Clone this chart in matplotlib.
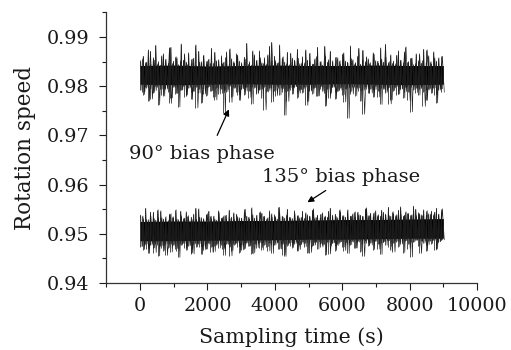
import numpy as np
import matplotlib
matplotlib.use("Agg")
import matplotlib.pyplot as plt
from matplotlib.ticker import MultipleLocator

# ---- data: upper / lower excursions of the noisy records ----
# 90 deg bias phase, first set of excursions
hi90 = [
0.9852,0.9861,0.9848,0.9874,0.9845,0.9858,0.9883,0.9850,0.9843,0.9866,
0.9855,0.9847,0.9879,0.9851,0.9860,0.9844,0.9886,0.9853,0.9849,0.9868,
0.9846,0.9857,0.9842,0.9871,0.9850,0.9863,0.9845,0.9855,0.9877,0.9848,
0.9852,0.9841,0.9862,0.9849,0.9870,0.9844,0.9856,0.9847,0.9866,0.9851,
0.9845,0.9859,0.9887,0.9850,0.9843,0.9864,0.9853,0.9872,0.9848,0.9858,
0.9846,0.9881,0.9852,0.9861,0.9847,0.9884,0.9855,0.9849,0.9869,0.9844,
0.9857,0.9851,0.9875,0.9846,0.9860,0.9848,0.9853,0.9867,0.9845,0.9856,
0.9879,0.9850,0.9843,0.9862,0.9849,0.9871,0.9852,0.9846,0.9858,0.9844,
0.9865,0.9851,0.9847,0.9882,0.9854,0.9848,0.9861,0.9845,0.9873,0.9850,
0.9856,0.9843,0.9868,0.9852,0.9847,0.9878,0.9849,0.9859,0.9845,0.9864,
0.9851,0.9846,0.9872,0.9853,0.9848,0.9880,0.9850,0.9857,0.9844,0.9866,
0.9852,0.9847,0.9875,0.9849,0.9862,0.9845,0.9870,0.9851,0.9858,0.9846]
lo90 = [
0.9792,0.9783,0.9798,0.9770,0.9795,0.9787,0.9801,0.9762,0.9794,0.9780,
0.9797,0.9789,0.9776,0.9799,0.9785,0.9758,0.9793,0.9800,0.9782,0.9796,
0.9773,0.9790,0.9798,0.9786,0.9766,0.9795,0.9781,0.9799,0.9791,0.9778,
0.9797,0.9784,0.9794,0.9745,0.9789,0.9800,0.9779,0.9796,0.9788,0.9771,
0.9795,0.9783,0.9798,0.9790,0.9764,0.9797,0.9786,0.9793,0.9775,0.9799,
0.9788,0.9796,0.9768,0.9791,0.9800,0.9782,0.9795,0.9741,0.9790,0.9797,
0.9784,0.9799,0.9777,0.9793,0.9787,0.9798,0.9769,0.9792,0.9785,0.9796,
0.9780,0.9799,0.9790,0.9760,0.9795,0.9786,0.9798,0.9774,0.9791,0.9797,
0.9783,0.9794,0.9735,0.9789,0.9799,0.9781,0.9796,0.9770,0.9792,0.9798,
0.9786,0.9795,0.9778,0.9800,0.9790,0.9763,0.9794,0.9787,0.9797,0.9772,
0.9791,0.9799,0.9784,0.9795,0.9776,0.9798,0.9788,0.9748,0.9793,0.9796,
0.9782,0.9799,0.9789,0.9771,0.9794,0.9786,0.9797,0.9766,0.9792,0.9795]
# 90 deg bias phase, second set of excursions (between the first ones)
hi90b = [
0.9856,0.9849,0.9871,0.9853,0.9846,0.9862,0.9850,0.9878,0.9847,0.9858,
0.9852,0.9866,0.9845,0.9855,0.9884,0.9849,0.9861,0.9851,0.9847,0.9869,
0.9854,0.9846,0.9859,0.9876,0.9850,0.9863,0.9848,0.9855,0.9845,0.9872,
0.9851,0.9858,0.9847,0.9864,0.9889,0.9852,0.9849,0.9860,0.9846,0.9867,
0.9853,0.9857,0.9848,0.9874,0.9851,0.9845,0.9862,0.9850,0.9881,0.9854,
0.9847,0.9859,0.9852,0.9868,0.9849,0.9856,0.9846,0.9877,0.9853,0.9860,
0.9848,0.9865,0.9851,0.9855,0.9885,0.9850,0.9847,0.9863,0.9852,0.9870,
0.9849,0.9857,0.9846,0.9866,0.9853,0.9874,0.9850,0.9858,0.9848,0.9861]
lo90b = [
0.9788,0.9796,0.9774,0.9791,0.9799,0.9783,0.9794,0.9765,0.9797,0.9786,
0.9792,0.9779,0.9798,0.9789,0.9756,0.9795,0.9784,0.9799,0.9790,0.9772,
0.9796,0.9787,0.9793,0.9767,0.9798,0.9782,0.9795,0.9790,0.9777,0.9799,
0.9785,0.9794,0.9752,0.9791,0.9797,0.9781,0.9796,0.9788,0.9769,0.9793,
0.9799,0.9786,0.9795,0.9761,0.9790,0.9797,0.9780,0.9794,0.9787,0.9775,
0.9798,0.9789,0.9792,0.9768,0.9796,0.9784,0.9799,0.9791,0.9743,0.9795,
0.9786,0.9793,0.9778,0.9797,0.9790,0.9764,0.9796,0.9783,0.9794,0.9789,
0.9771,0.9798,0.9787,0.9795,0.9759,0.9792,0.9797,0.9782,0.9794,0.9788]
# 135 deg bias phase, first set
hi135 = [
0.9538,0.9531,0.9552,0.9529,0.9536,0.9544,0.9528,0.9533,0.9547,0.9530,
0.9535,0.9527,0.9541,0.9532,0.9549,0.9529,0.9537,0.9531,0.9545,0.9528,
0.9534,0.9540,0.9530,0.9551,0.9533,0.9529,0.9538,0.9546,0.9531,0.9536,
0.9528,0.9543,0.9532,0.9537,0.9530,0.9548,0.9534,0.9529,0.9540,0.9533,
0.9531,0.9545,0.9536,0.9530,0.9553,0.9532,0.9538,0.9529,0.9542,0.9535,
0.9531,0.9547,0.9533,0.9539,0.9530,0.9544,0.9536,0.9532,0.9550,0.9534,
0.9531,0.9541,0.9537,0.9533,0.9546,0.9532,0.9539,0.9535,0.9548,0.9533,
0.9538,0.9532,0.9543,0.9536,0.9534,0.9552,0.9535,0.9540,0.9533,0.9545,
0.9537,0.9534,0.9549,0.9536,0.9541,0.9534,0.9544,0.9538,0.9535,0.9551,
0.9537,0.9542,0.9535,0.9547,0.9539,0.9536,0.9544,0.9538,0.9554,0.9536,
0.9541,0.9537,0.9548,0.9539,0.9536,0.9545,0.9540,0.9538,0.9556,0.9537,
0.9543,0.9539,0.9549,0.9538,0.9541,0.9546,0.9539,0.9552,0.9540,0.9544]
lo135 = [
0.9474,0.9468,0.9479,0.9460,0.9477,0.9471,0.9480,0.9455,0.9476,0.9466,
0.9479,0.9472,0.9463,0.9478,0.9470,0.9452,0.9477,0.9481,0.9467,0.9475,
0.9461,0.9479,0.9473,0.9480,0.9458,0.9476,0.9469,0.9481,0.9474,0.9464,
0.9479,0.9471,0.9477,0.9456,0.9480,0.9473,0.9466,0.9478,0.9482,0.9462,
0.9477,0.9470,0.9481,0.9475,0.9459,0.9479,0.9472,0.9482,0.9467,0.9478,
0.9474,0.9481,0.9460,0.9477,0.9483,0.9470,0.9479,0.9454,0.9476,0.9482,
0.9472,0.9480,0.9465,0.9478,0.9483,0.9474,0.9461,0.9481,0.9476,0.9484,
0.9469,0.9480,0.9477,0.9457,0.9483,0.9475,0.9481,0.9466,0.9479,0.9484,
0.9473,0.9482,0.9460,0.9478,0.9485,0.9471,0.9483,0.9464,0.9480,0.9486,
0.9476,0.9482,0.9468,0.9485,0.9479,0.9458,0.9484,0.9477,0.9486,0.9467,
0.9481,0.9485,0.9474,0.9483,0.9462,0.9486,0.9479,0.9453,0.9484,0.9487,
0.9476,0.9485,0.9481,0.9465,0.9486,0.9480,0.9487,0.9469,0.9484,0.9488]
# 135 deg bias phase, second set
hi135b = [
0.9536,0.9529,0.9544,0.9531,0.9549,0.9533,0.9528,0.9540,0.9535,0.9530,
0.9546,0.9532,0.9537,0.9529,0.9552,0.9534,0.9531,0.9541,0.9536,0.9530,
0.9547,0.9533,0.9538,0.9531,0.9543,0.9535,0.9532,0.9550,0.9534,0.9539,
0.9532,0.9545,0.9536,0.9533,0.9541,0.9535,0.9554,0.9534,0.9539,0.9533,
0.9547,0.9537,0.9534,0.9543,0.9536,0.9551,0.9535,0.9540,0.9534,0.9546,
0.9538,0.9535,0.9549,0.9537,0.9542,0.9536,0.9545,0.9539,0.9536,0.9553,
0.9538,0.9543,0.9537,0.9548,0.9540,0.9537,0.9545,0.9539,0.9555,0.9538,
0.9542,0.9539,0.9550,0.9541,0.9538,0.9547,0.9540,0.9544,0.9539,0.9551]
lo135b = [
0.9476,0.9469,0.9480,0.9462,0.9477,0.9472,0.9456,0.9479,0.9474,0.9466,
0.9480,0.9471,0.9477,0.9459,0.9481,0.9473,0.9468,0.9479,0.9463,0.9476,
0.9481,0.9470,0.9478,0.9455,0.9480,0.9474,0.9467,0.9482,0.9476,0.9461,
0.9479,0.9472,0.9483,0.9465,0.9478,0.9481,0.9469,0.9457,0.9480,0.9475,
0.9483,0.9468,0.9479,0.9482,0.9462,0.9477,0.9484,0.9473,0.9480,0.9459,
0.9482,0.9476,0.9484,0.9466,0.9479,0.9483,0.9471,0.9485,0.9454,0.9481,
0.9477,0.9485,0.9469,0.9482,0.9486,0.9474,0.9463,0.9484,0.9479,0.9486,
0.9470,0.9483,0.9487,0.9460,0.9485,0.9478,0.9486,0.9467,0.9484,0.9488]

# dense (solid black) core of each record, read every 1000 s
core_t = [0, 1000, 2000, 3000, 4000, 5000, 6000, 7000, 8000, 9000]
core90_hi = [0.9842, 0.9843, 0.9841, 0.9842, 0.9843, 0.9842, 0.9842, 0.9843, 0.9842, 0.9842]
core90_lo = [0.9804, 0.9803, 0.9804, 0.9805, 0.9804, 0.9804, 0.9805, 0.9804, 0.9803, 0.9804]
core135_hi = [0.9525, 0.9526, 0.9526, 0.9527, 0.9527, 0.9528, 0.9529, 0.9529, 0.9530, 0.9531]
core135_lo = [0.9486, 0.9486, 0.9487, 0.9487, 0.9488, 0.9489, 0.9489, 0.9490, 0.9491, 0.9491]

t_start, t_end = 0, 9000
x_ticks = [0, 2000, 4000, 6000, 8000, 10000]
y_ticks = [0.94, 0.95, 0.96, 0.97, 0.98, 0.99]
label90 = "90° bias phase"
label135 = "135° bias phase"

plt.rcParams['font.family'] = ['DejaVu Serif']
TXT = '#1a1a1a'


def interleave(hi, lo):
    return np.column_stack([hi, lo]).ravel()


fig = plt.figure(figsize=(5.11, 3.5), dpi=100)
ax = fig.add_axes([0.2082, 0.1914, 0.7253, 0.7732])

records = [
    (core90_hi, core90_lo, [(hi90, lo90), (hi90b, lo90b)]),
    (core135_hi, core135_lo, [(hi135, lo135), (hi135b, lo135b)]),
]
for chi, clo, sets in records:
    ax.fill_between(core_t, clo, chi, color='black', lw=0)
    for k, (hi, lo) in enumerate(sets):
        n = len(hi)
        step = (t_end - t_start) / n
        tp = t_start + step * (np.arange(n) + 0.5 * k)
        ax.vlines(tp, lo, hi, color='#202020', lw=0.55)
        zz = interleave(hi, lo)
        tz = t_start + step * (np.arange(2 * n) / 2.0 + 0.5 * k + 0.25)
        ax.plot(tz, zz, color='#1a1a1a', lw=0.45)

ax.set_xlim(-1000, 10000)
ax.set_ylim(0.94, 0.995)
ax.set_xticks(x_ticks)
ax.set_yticks(y_ticks)
ax.set_yticklabels([f"{v:.2f}" for v in y_ticks])
ax.xaxis.set_minor_locator(MultipleLocator(1000))
ax.yaxis.set_minor_locator(MultipleLocator(0.005))
ax.tick_params(which='major', direction='out', length=5, width=0.8, labelsize=13.8,
               colors=TXT, pad=5)
ax.tick_params(which='minor', direction='out', length=3, width=0.8, colors=TXT)
ax.tick_params(axis='y', which='major', pad=7)
for s in ['top', 'right']:
    ax.spines[s].set_visible(False)
for s in ['left', 'bottom']:
    ax.spines[s].set_linewidth(0.9)
    ax.spines[s].set_color('#333333')

ax.set_xlabel("Sampling time (s)", fontsize=14.8, labelpad=9, color=TXT)
ax.set_ylabel("Rotation speed", fontsize=15.5, labelpad=8, color=TXT)

ax.annotate("", xy=(2670, 0.9758), xytext=(2255, 0.9695),
            arrowprops=dict(arrowstyle='-|>', color='black', lw=0.9, mutation_scale=9))
ax.text(-330, 0.9662, label90, fontsize=14, va='center', ha='left', color=TXT)
ax.annotate("", xy=(4896, 0.9561), xytext=(5579, 0.9591),
            arrowprops=dict(arrowstyle='-|>', color='black', lw=0.9, mutation_scale=9))
ax.text(3630, 0.9615, label135, fontsize=14, va='center', ha='left', color=TXT)

fig.savefig("out.png", dpi=100)
